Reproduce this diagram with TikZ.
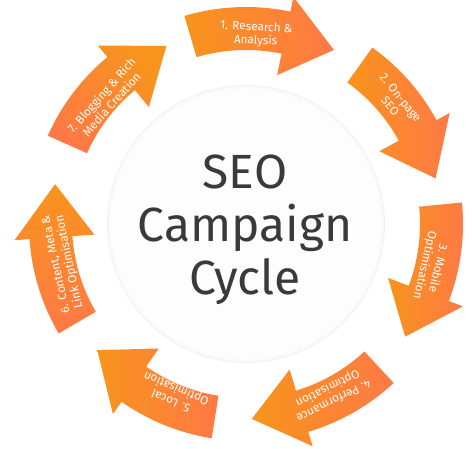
\documentclass[tikz,border=0pt]{standalone}
\usepackage{fontspec}
\setmainfont{Fira Sans}
\definecolor{seoorange}{RGB}{248,148,28}
\definecolor{seocoral}{RGB}{255,121,70}
\definecolor{seodark}{RGB}{58,58,58}
\definecolor{seoring}{RGB}{242,242,242}
% #1 tail angle, #2 neck angle, #3 tip angle (screen degrees, clockwise from top), #4 shading
\newcommand\seoarrow[4]{%
  \shade[#4] ({90-#1}:217) arc[start angle={90-#1}, end angle={90-#2}, radius=217]
    -- ({90-#2}:232) -- ({90-#3}:195) -- ({90-#2}:152) -- ({90-#2}:174)
    arc[start angle={90-#2}, end angle={90-#1}, radius=174] -- cycle;}
\begin{document}
\begin{tikzpicture}[x=1pt,y=1pt,
  arrowtext/.style={text=white, font=\fontsize{11.8}{13.5}\selectfont, align=center, inner sep=0pt},
  titletext/.style={text=seodark, font=\fontsize{48}{52}\selectfont, anchor=base, inner sep=0pt},
  lr/.style={left color=seoorange, right color=seocoral},
  ]
\useasboundingbox (0,0) rectangle (474,448);
\begin{scope}[shift={(246,224)}]
  % central circle with soft inner shadow
  \fill[seoring] (0,0) circle (139);
  \foreach \i in {1,...,7} \fill[white, opacity=0.35] (0,0) circle ({139-0.8*\i});
  % arrows
  \seoarrow{-16.5}{11.8}{26.8}{lr}
  \seoarrow{35.6}{61.4}{76.5}{lr}
  \seoarrow{84.3}{110.8}{125.3}{lr}
  \seoarrow{137.1}{163.3}{178.3}{lr}
  \seoarrow{189.1}{215}{229.7}{lr}
  \seoarrow{239.7}{266}{281.8}{top color=seoorange, bottom color=seocoral}
  \seoarrow{294}{320.3}{335.9}{top color=seoorange, bottom color=seocoral, shading angle=-45}
  % arrow labels
  \node[arrowtext, rotate=-3] (t1) at ({90-3}:190) {1. Research \&\\Analysis};
  \node[arrowtext, rotate=-50.8] (t2) at ({90-50.8}:193) {2. On-page\\SEO};
  \node[arrowtext, rotate=-103] (t3) at ({90-103}:190) {3. Mobile\\Optimisation};
  \node[arrowtext, rotate=-153.6] (t4) at ({90-153.6}:190) {4. Performance\\Optimisation};
  \node[arrowtext, rotate=-203] (t5) at ({90-203}:185) {5. Local\\Optimisation};
  \node[arrowtext, rotate=-258] (t6) at ({90-258}:187) {6. Content, Meta \&\\Link Optimisation};
  \node[arrowtext, rotate=-311.7] (t7) at ({90-311.7}:187) {7. Blogging \& Rich\\Media Creation};
  % title
  \node[titletext] (l1) at (-1,35) {SEO};
  \node[titletext] (l2) at (-1,-17.5) {Campaign};
  \node[titletext] (l3) at (-1,-70) {Cycle};
\end{scope}
\end{tikzpicture}
\end{document}
